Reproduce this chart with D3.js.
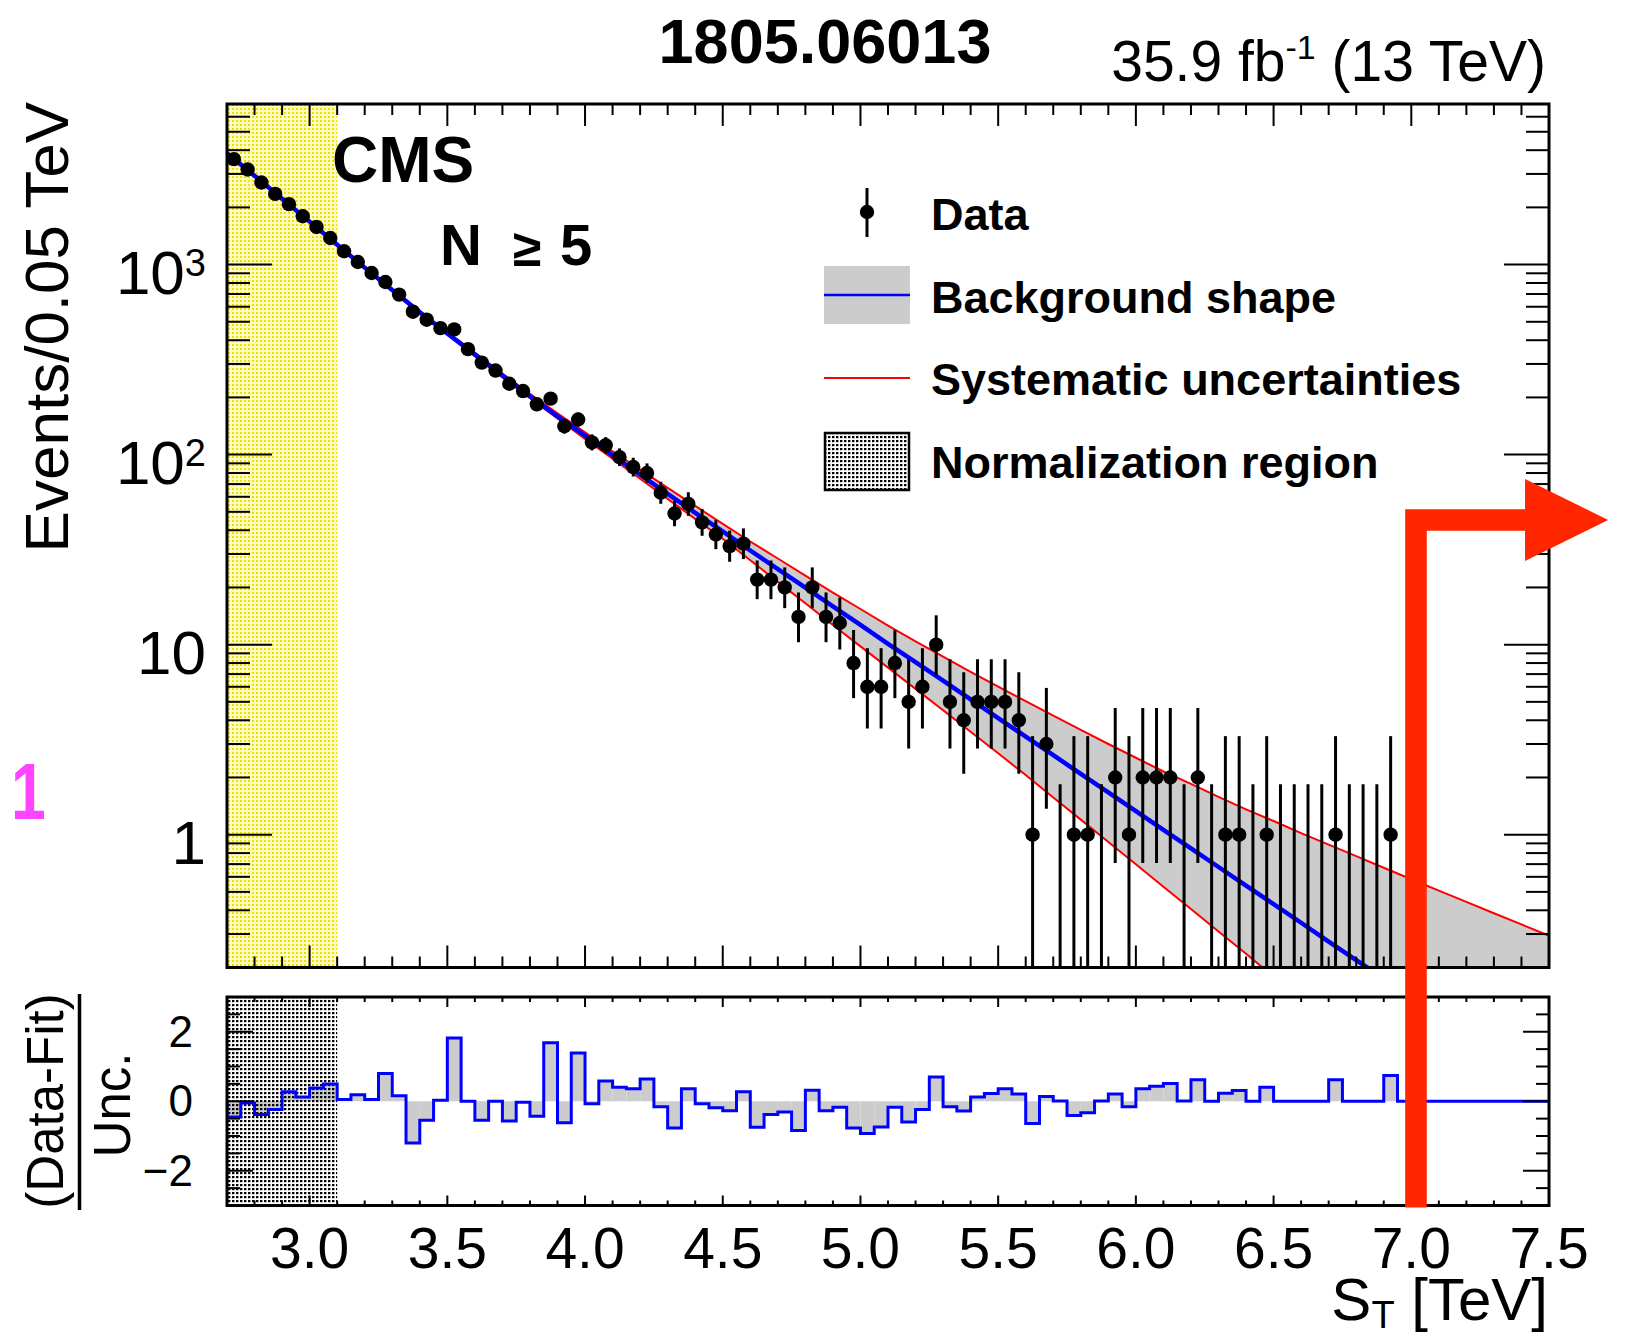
<!DOCTYPE html>
<html>
<head>
<meta charset="utf-8">
<script src="https://cdn.jsdelivr.net/npm/d3@7"></script>
<style>
  html, body { margin: 0; padding: 0; background: #fff; }
  svg { display: block; font-family: "Liberation Sans", Arial, Helvetica, sans-serif; }
</style>
</head>
<body>
<svg id="chart" width="1626" height="1336"></svg>
<script>
// bins: 0.05 TeV wide, from 2.7 TeV
const binStart = 2.7
const binWidth = 0.05

// observed events per bin (2.725 ... 6.925 TeV)
const dataCounts = [3589, 3165, 2703, 2355, 2080, 1796, 1578, 1380, 1175, 1032,
  903, 810, 695, 565, 513, 463, 456, 359, 305, 277,
  236, 216, 184, 197, 141, 153, 116, 112, 97, 86,
  80, 63, 49, 55, 44, 38, 33, 34, 22, 22,
  20, 14, 20, 14, 13, 8, 6, 6, 8, 5,
  6, 10, 5, 4, 5, 5, 5, 4, 1, 3,
  0, 1, 1, 0, 2, 1, 2, 2, 2, 0,
  2, 0, 1, 1, 0, 1, 0, 0, 0, 0,
  1, 0, 0, 0, 1]

// asymmetric (Poisson) error bars, below / above the count
const dataErrDn = [60, 56, 52, 48.5, 45.6, 42.4, 39.7, 37.1, 34.3, 32.1,
  30, 28.5, 26.4, 23.8, 22.6, 21.5, 21.4, 18.9, 17.5, 16.6,
  15.4, 14.7, 13.6, 14, 11.9, 12.4, 10.8, 10.6, 9.8, 9.3,
  8.9, 7.9, 7.0, 7.4, 6.6, 6.2, 5.7, 5.8, 4.65, 4.65,
  4.44, 3.7, 4.44, 3.7, 3.57, 2.77, 2.38, 2.38, 2.77, 2.16,
  2.38, 3.11, 2.16, 1.91, 2.16, 2.16, 2.16, 1.91, 0.83, 1.63,
  0, 0.83, 0.83, 0, 1.29, 0.83, 1.29, 1.29, 1.29, 0,
  1.29, 0, 0.83, 0.83, 0, 0.83, 0, 0, 0, 0,
  0.83, 0, 0, 0, 0.83]
const dataErrUp = [61, 57, 53, 49.5, 46.6, 43.4, 40.7, 38.1, 35.3, 33.1,
  31, 29.5, 27.4, 24.8, 23.6, 22.5, 22.4, 19.9, 18.5, 17.6,
  16.4, 15.7, 14.6, 15, 12.9, 13.4, 11.8, 11.6, 10.8, 10.3,
  9.9, 9.0, 8.0, 8.4, 7.7, 7.2, 6.8, 6.9, 5.73, 5.73,
  5.5, 4.82, 5.5, 4.82, 4.69, 3.94, 3.58, 3.58, 3.94, 3.38,
  3.58, 4.27, 3.38, 3.16, 3.38, 3.38, 3.38, 3.16, 2.30, 2.92,
  1.84, 2.30, 2.30, 1.84, 2.64, 2.30, 2.64, 2.64, 2.64, 1.84,
  2.64, 1.84, 2.30, 2.30, 1.84, 2.30, 1.84, 1.84, 1.84, 1.84,
  2.30, 1.84, 1.84, 1.84, 2.30]

// (Data-Fit)/Unc. per bin, 2.7 ... 7.5 TeV
const pulls = [-0.45, -0.05, -0.38, -0.24, 0.27, 0.12, 0.38, 0.50, 0.05, 0.19,
  0.05, 0.80, 0.16, -1.20, -0.55, 0.03, 1.82, 0.00, -0.55, 0.00,
  -0.57, -0.03, -0.43, 1.68, -0.62, 1.39, -0.07, 0.58, 0.40, 0.36,
  0.64, -0.16, -0.77, 0.36, -0.07, -0.19, -0.27, 0.27, -0.75, -0.38,
  -0.31, -0.84, 0.32, -0.27, -0.17, -0.77, -0.93, -0.74, -0.17, -0.60,
  -0.24, 0.70, -0.16, -0.28, 0.12, 0.22, 0.36, 0.21, -0.64, 0.14,
  0.01, -0.41, -0.33, 0.01, 0.21, -0.16, 0.36, 0.43, 0.51, 0.01,
  0.62, 0.00, 0.23, 0.31, 0.00, 0.40, 0.00, 0.00, 0.00, 0.00,
  0.62, 0.00, 0.00, 0.00, 0.74, 0.00, 0.00, 0.00, 0.00, 0.00,
  0.00, 0.00, 0.00, 0.00, 0.00, 0.00]

// background shape sampled every 0.1 TeV from 2.7
const fitCentral = [3855, 2938, 2223, 1683, 1271, 964, 735, 562, 434, 337,
  261, 203, 159, 126, 99.1, 78.5, 62.2, 49.4, 39.4, 31.3,
  25.0, 19.95, 15.9, 12.7, 10.1, 8.09, 6.46, 5.15, 4.11, 3.28,
  2.62, 2.09, 1.67, 1.33, 1.06, 0.847, 0.676, 0.540, 0.431, 0.344,
  0.274, 0.219, 0.175, 0.139]
const sysUp = [3900, 2972, 2249, 1702, 1285, 975, 743, 570, 442, 343,
  267, 209, 165, 131, 104, 83.4, 66.8, 53.7, 43.2, 34.9,
  28.4, 23.1, 18.8, 15.4, 12.6, 10.4, 8.65, 7.19, 6.01, 5.04,
  4.23, 3.56, 3.00, 2.54, 2.15, 1.85, 1.58, 1.36, 1.18, 1.02,
  0.887, 0.771, 0.670, 0.583, 0.508, 0.443, 0.386, 0.337, 0.294]
const sysDn = [3811, 2904, 2198, 1663, 1256, 951, 724, 553, 427, 330,
  255, 198, 155, 121, 95.1, 74.6, 58.5, 45.9, 36.1, 27.8,
  21.4, 16.5, 12.7, 9.79, 7.57, 5.85, 4.52, 3.48, 2.68, 2.06,
  1.57, 1.20, 0.916, 0.698, 0.532, 0.406, 0.309, 0.236, 0.179, 0.137]

const normRegion = [2.7, 3.1]
const xTickLabels = ["3.0", "3.5", "4.0", "4.5", "5.0", "5.5", "6.0", "6.5", "7.0", "7.5"]
const yTickLabels = [{v: 1, base: "1"}, {v: 10, base: "10"}, {v: 100, base: "10", sup: "2"}, {v: 1000, base: "10", sup: "3"}]
const pullTickLabels = [{v: 2, t: "2"}, {v: 0, t: "0"}, {v: -2, t: "\u22122"}]
// red annotation arrow (data coords)
const arrow = {x: 7.017, y: 45.3, headX: 7.413, tipX: 7.715}

const svg = d3.select("#chart")
const F = {left: 227, right: 1549, top: 104, mid: 967.5, top2: 997, bottom: 1205.5}

const x = d3.scaleLinear().domain([2.7, 7.5]).range([F.left, F.right])
const y = d3.scaleLog().domain([0.2, 7000]).range([F.mid, F.top])
const r = d3.scaleLinear().domain([-3, 3]).range([F.bottom, F.top2])

const gridX = d3.range(27, 76).map((v) => v / 10)
const binEdges = d3.range(pulls.length + 1).map((i) => +(binStart + i * binWidth).toFixed(3))

const defs = svg.append("defs")
defs.append("clipPath").attr("id", "clipTop")
  .append("rect").attr("x", F.left).attr("y", F.top).attr("width", F.right - F.left).attr("height", F.mid - F.top)
defs.append("clipPath").attr("id", "clipBot")
  .append("rect").attr("x", F.left).attr("y", F.top2).attr("width", F.right - F.left).attr("height", F.bottom - F.top2)

const py = defs.append("pattern").attr("id", "yellowDots").attr("patternUnits", "userSpaceOnUse")
  .attr("width", 4).attr("height", 4)
py.append("rect").attr("width", 4).attr("height", 4).attr("fill", "#fffcc0")
py.append("rect").attr("width", 2).attr("height", 2).attr("fill", "#f0e000")

const pk = defs.append("pattern").attr("id", "blackDots").attr("patternUnits", "userSpaceOnUse")
  .attr("width", 4).attr("height", 4)
pk.append("rect").attr("width", 2.4).attr("height", 2.2).attr("fill", "#000")

// ---------- top panel ----------
const gTop = svg.append("g").attr("clip-path", "url(#clipTop)")

gTop.append("rect")
  .attr("x", x(normRegion[0])).attr("y", F.top)
  .attr("width", x(normRegion[1]) - x(normRegion[0])).attr("height", F.mid - F.top)
  .attr("fill", "url(#yellowDots)")

const band = sysUp.map((v, i) => ({x: gridX[i], hi: v, lo: i < sysDn.length ? sysDn[i] : y.domain()[0]}))
gTop.append("path")
  .datum(band)
  .attr("fill", "#cccccc")
  .attr("d", d3.area().x((d) => x(d.x)).y0((d) => y(d.lo)).y1((d) => y(d.hi)))

const line = d3.line().x((d) => x(d[0])).y((d) => y(d[1]))
gTop.append("path").datum(sysUp.map((v, i) => [gridX[i], v]))
  .attr("fill", "none").attr("stroke", "#ff0000").attr("stroke-width", 2).attr("d", line)
gTop.append("path").datum(sysDn.map((v, i) => [gridX[i], v]))
  .attr("fill", "none").attr("stroke", "#ff0000").attr("stroke-width", 2).attr("d", line)
gTop.append("path").datum(fitCentral.map((v, i) => [gridX[i], v]))
  .attr("fill", "none").attr("stroke", "#0000ff").attr("stroke-width", 4.5).attr("d", line)

const pts = dataCounts.map((n, i) => ({
  x: binStart + (i + 0.5) * binWidth,
  n,
  lo: Math.max(n - dataErrDn[i], y.domain()[0]),
  hi: n + dataErrUp[i],
}))

gTop.append("g").selectAll("line").data(pts).join("line")
  .attr("x1", (d) => x(d.x)).attr("x2", (d) => x(d.x))
  .attr("y1", (d) => y(d.lo)).attr("y2", (d) => y(d.hi))
  .attr("stroke", "#000").attr("stroke-width", 3)

gTop.append("g").selectAll("circle").data(pts.filter((d) => d.n > 0)).join("circle")
  .attr("cx", (d) => x(d.x)).attr("cy", (d) => y(d.n)).attr("r", 7.2)
  .attr("fill", "#000")

// ---------- bottom panel ----------
const gBot = svg.append("g").attr("clip-path", "url(#clipBot)")
const bins = pulls.map((v, i) => ({x0: binEdges[i], x1: binEdges[i + 1], v}))

gBot.append("g").selectAll("rect").data(bins).join("rect")
  .attr("x", (d) => x(d.x0)).attr("width", (d) => x(d.x1) - x(d.x0))
  .attr("y", (d) => Math.min(r(0), r(d.v))).attr("height", (d) => Math.abs(r(d.v) - r(0)))
  .attr("fill", "#cccccc")

gBot.append("rect")
  .attr("x", x(normRegion[0])).attr("y", F.top2)
  .attr("width", x(normRegion[1]) - x(normRegion[0])).attr("height", F.bottom - F.top2)
  .attr("fill", "url(#blackDots)")

const steps = [[binEdges[0], 0]].concat(bins.map((d) => [d.x0, d.v]), [[binEdges[binEdges.length - 1], pulls[pulls.length - 1]]])
gBot.append("path").datum(steps)
  .attr("fill", "none").attr("stroke", "#0000ff").attr("stroke-width", 3)
  .attr("d", d3.line().x((d) => x(d[0])).y((d) => r(d[1])).curve(d3.curveStepAfter))

// ---------- ticks ----------
const ticks = svg.append("g").attr("stroke", "#000").attr("stroke-width", 2)
function hTicks(vals, yPos, len) {
  ticks.append("g").selectAll("line").data(vals).join("line")
    .attr("x1", (d) => x(d)).attr("x2", (d) => x(d)).attr("y1", yPos).attr("y2", yPos + len)
}
function vTicks(scale, vals, xPos, len) {
  ticks.append("g").selectAll("line").data(vals).join("line")
    .attr("y1", (d) => scale(d)).attr("y2", (d) => scale(d)).attr("x1", xPos).attr("x2", xPos + len)
}
const xAll = d3.range(27, 76).map((v) => v / 10)
const xMajor = xAll.filter((v) => Math.abs(v * 2 - Math.round(v * 2)) < 1e-6)
const xMinor = xAll.filter((v) => !xMajor.includes(v))
hTicks(xMajor, F.mid, -22); hTicks(xMinor, F.mid, -11)
hTicks(xMajor, F.top, 22); hTicks(xMinor, F.top, 11)
hTicks(xMajor, F.top2, 10); hTicks(xMinor, F.top2, 5)
hTicks(xMajor, F.bottom, -10); hTicks(xMinor, F.bottom, -5)

const yMajor = [1, 10, 100, 1000]
const yMinor = []
for (const dec of [0.1, 1, 10, 100, 1000]) {
  for (let k = 2; k <= 9; k++) {
    const v = dec * k
    if (v >= 0.2 && v <= 7000) yMinor.push(v)
  }
}
vTicks(y, yMajor, F.left, 45); vTicks(y, yMinor, F.left, 23)
vTicks(y, yMajor, F.right, -45); vTicks(y, yMinor, F.right, -23)

const rMajor = [-2, 0, 2]
const rMinor = d3.range(-5, 6).map((v) => v / 2).filter((v) => !rMajor.includes(v))
vTicks(r, rMajor, F.left, 26); vTicks(r, rMinor, F.left, 13)
vTicks(r, rMajor, F.right, -26); vTicks(r, rMinor, F.right, -13)

// frames
svg.append("rect").attr("x", F.left).attr("y", F.top).attr("width", F.right - F.left).attr("height", F.mid - F.top)
  .attr("fill", "none").attr("stroke", "#000").attr("stroke-width", 3)
svg.append("rect").attr("x", F.left).attr("y", F.top2).attr("width", F.right - F.left).attr("height", F.bottom - F.top2)
  .attr("fill", "none").attr("stroke", "#000").attr("stroke-width", 3)

// ---------- labels ----------
const lab = svg.append("g").attr("fill", "#000")

lab.append("g").selectAll("text").data(xTickLabels).join("text")
  .attr("x", (d) => x(+d)).attr("y", 1268).attr("text-anchor", "middle").attr("font-size", 57).text((d) => d)

const yl = lab.append("g").selectAll("text").data(yTickLabels).join("text")
  .attr("x", 206).attr("y", (d) => y(d.v) + 29).attr("text-anchor", "end").attr("font-size", 62)
yl.append("tspan").text((d) => d.base)
yl.filter((d) => d.sup).append("tspan").attr("font-size", 38).attr("dy", -18).text((d) => d.sup)

lab.append("g").selectAll("text").data(pullTickLabels).join("text")
  .attr("x", 193).attr("y", (d) => r(d.v) + 15).attr("text-anchor", "end").attr("font-size", 44).text((d) => d.t)

const xt = lab.append("text").attr("x", 1548).attr("y", 1320).attr("text-anchor", "end").attr("font-size", 60)
xt.append("tspan").text("S")
xt.append("tspan").attr("font-size", 38).attr("dy", 8).text("T")
xt.append("tspan").attr("dy", -8).text(" [TeV]")

lab.append("text").attr("transform", "translate(68,102) rotate(-90)").attr("text-anchor", "end")
  .attr("font-size", 62).text("Events/0.05 TeV")

lab.append("text").attr("transform", "translate(63,1101) rotate(-90)").attr("text-anchor", "middle")
  .attr("font-size", 51).text("(Data-Fit)")
lab.append("text").attr("transform", "translate(130,1105) rotate(-90)").attr("text-anchor", "middle")
  .attr("font-size", 51).text("Unc.")
svg.append("line").attr("x1", 79.5).attr("x2", 79.5).attr("y1", 994).attr("y2", 1210)
  .attr("stroke", "#000").attr("stroke-width", 3.5)

lab.append("text").attr("x", 825).attr("y", 63).attr("text-anchor", "middle")
  .attr("font-size", 63).attr("font-weight", "bold").text("1805.06013")

const lumi = lab.append("text").attr("x", 1546).attr("y", 81).attr("text-anchor", "end").attr("font-size", 57)
lumi.append("tspan").text("35.9 fb")
lumi.append("tspan").attr("font-size", 34).attr("dy", -22).text("-1")
lumi.append("tspan").attr("dy", 22).text(" (13 TeV)")

lab.append("text").attr("x", 332).attr("y", 182).attr("font-size", 64).attr("font-weight", "bold").text("CMS")
lab.append("text").attr("x", 440).attr("y", 265).attr("font-size", 58).attr("font-weight", "bold").text("N")
lab.append("text").attr("x", 513).attr("y", 266).attr("font-size", 52).attr("font-weight", "bold").text("\u2265")
lab.append("text").attr("x", 560).attr("y", 265).attr("font-size", 58).attr("font-weight", "bold").text("5")

lab.append("text").attr("transform", "translate(11,819) scale(0.78,1)").attr("font-size", 80).attr("font-weight", "bold")
  .attr("fill", "#ff44ff").text("1")

// ---------- legend ----------
const leg = svg.append("g")
const lx0 = 824, lx1 = 910, ltx = 931
leg.append("line").attr("x1", 867).attr("x2", 867).attr("y1", 188).attr("y2", 237).attr("stroke", "#000").attr("stroke-width", 3)
leg.append("circle").attr("cx", 867).attr("cy", 212).attr("r", 7.2).attr("fill", "#000")
leg.append("rect").attr("x", lx0).attr("y", 266).attr("width", lx1 - lx0).attr("height", 58).attr("fill", "#cccccc")
leg.append("line").attr("x1", lx0).attr("x2", lx1).attr("y1", 295).attr("y2", 295).attr("stroke", "#0000ff").attr("stroke-width", 2.5)
leg.append("line").attr("x1", lx0).attr("x2", lx1).attr("y1", 378).attr("y2", 378).attr("stroke", "#ff0000").attr("stroke-width", 2)
leg.append("rect").attr("x", lx0 + 1).attr("y", 433).attr("width", lx1 - lx0 - 2).attr("height", 57)
  .attr("fill", "url(#blackDots)").attr("stroke", "#000").attr("stroke-width", 2.5)
const legText = [["Data", 230], ["Background shape", 313], ["Systematic uncertainties", 395], ["Normalization region", 478]]
leg.selectAll("text").data(legText).join("text")
  .attr("x", ltx).attr("y", (d) => d[1]).attr("font-size", 45).attr("font-weight", "bold").text((d) => d[0])

// ---------- red arrow annotation ----------
const ax = x(arrow.x), ay = y(arrow.y), hw = 10.8
svg.append("path")
  .attr("fill", "#ff2600")
  .attr("d", [
    "M", ax - hw, F.bottom + 2,
    "L", ax - hw, ay - hw,
    "L", x(arrow.headX), ay - hw,
    "L", x(arrow.headX), ay - 41,
    "L", x(arrow.tipX), ay,
    "L", x(arrow.headX), ay + 41,
    "L", x(arrow.headX), ay + hw,
    "L", ax + hw, ay + hw,
    "L", ax + hw, F.bottom + 2, "Z"].join(" "))
</script>
</body>
</html>
